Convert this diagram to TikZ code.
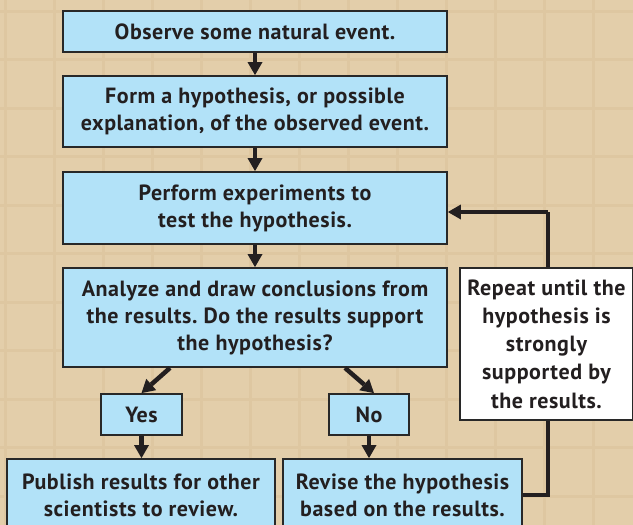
\documentclass[tikz,border=0pt]{standalone}
\usepackage{fontspec}
\setmainfont[LetterSpace=2.5]{PT Sans}
\usetikzlibrary{arrows.meta}
\frenchspacing
\definecolor{bg}{RGB}{227,206,170}
\definecolor{gridc}{RGB}{222,199,161}
\definecolor{boxblue}{RGB}{178,226,248}
\definecolor{ink}{RGB}{35,31,32}
\definecolor{edge}{RGB}{40,40,40}
\tikzset{
  fbox/.style={draw=edge, line width=1.8pt, fill=boxblue, text=ink, align=center,
    inner sep=0pt, font=\bfseries\fontsize{22}{27}\selectfont},
  wbox/.style={fbox, fill=white, font=\bfseries\fontsize{22}{28.3}\selectfont},
  arr/.style={draw=ink, line width=4.5pt,
    -{Triangle[width=15pt,length=13pt,line width=0pt]}},
  loopline/.style={draw=ink, line width=4.5pt},
}
\begin{document}
\begin{tikzpicture}[x=1pt,y=-1pt]
\useasboundingbox (0,0) rectangle (633,525);
\clip (0,0) rectangle (633,525);
\fill[bg] (0,0) rectangle (633,525);
\foreach \k in {0,...,12} {
  \draw[gridc, line width=3pt] ({5+49*\k},0) -- ({5+49*\k},525);
}
\foreach \k in {0,...,10} {
  \draw[gridc, line width=3pt] (0,{11+48.5*\k}) -- (633,{11+48.5*\k});
}
\node[fbox, minimum width=384pt, minimum height=41pt] (b1) at (255,31.5)
  {Observe some natural event.};
\node[fbox, minimum width=384pt, minimum height=71pt] (b2) at (255,111.5)
  {Form a hypothesis, or possible\\explanation, of the observed event.};
\node[fbox, minimum width=384pt, minimum height=72pt] (b3) at (255,208)
  {Perform experiments to\\test the hypothesis.};
\node[fbox, minimum width=384pt, minimum height=99pt] (b4) at (255,317.5)
  {Analyze and draw conclusions from\\the results. Do the results support\\the hypothesis?};
\node[fbox, minimum width=81pt, minimum height=41pt] (yes) at (141.5,414.5) {Yes};
\node[fbox, minimum width=80pt, minimum height=41pt] (no) at (369,414.5) {No};
\node[fbox, minimum width=268pt, minimum height=72pt] (pub) at (141,495)
  {Publish results for other\\scientists to review.};
\node[fbox, minimum width=239pt, minimum height=72pt] (rev) at (402.5,495)
  {Revise the hypothesis\\based on the results.};
\draw[arr] (b1.south) -- (b2.north);
\draw[arr] (b2.south) -- (b3.north);
\draw[arr] (b3.south) -- (b4.north);
\draw[arr] ([xshift=-85pt]b4.south) -- (yes.north);
\draw[arr] ([xshift=90pt]b4.south) -- ([xshift=5pt]no.north);
\draw[arr] (yes.south) -- (yes.south |- pub.north);
\draw[arr] (no.south) -- (no.south |- rev.north);
\coordinate (turn) at (548,212);
\draw[loopline] (rev.east |- 0,495) -| (turn);
\draw[arr] (turn) -- (turn -| b3.east);
\node[wbox, minimum width=173pt, minimum height=152pt] (rep) at (546.5,344)
  {Repeat until the\\hypothesis is\\strongly\\supported by\\the results.};
\end{tikzpicture}
\end{document}
